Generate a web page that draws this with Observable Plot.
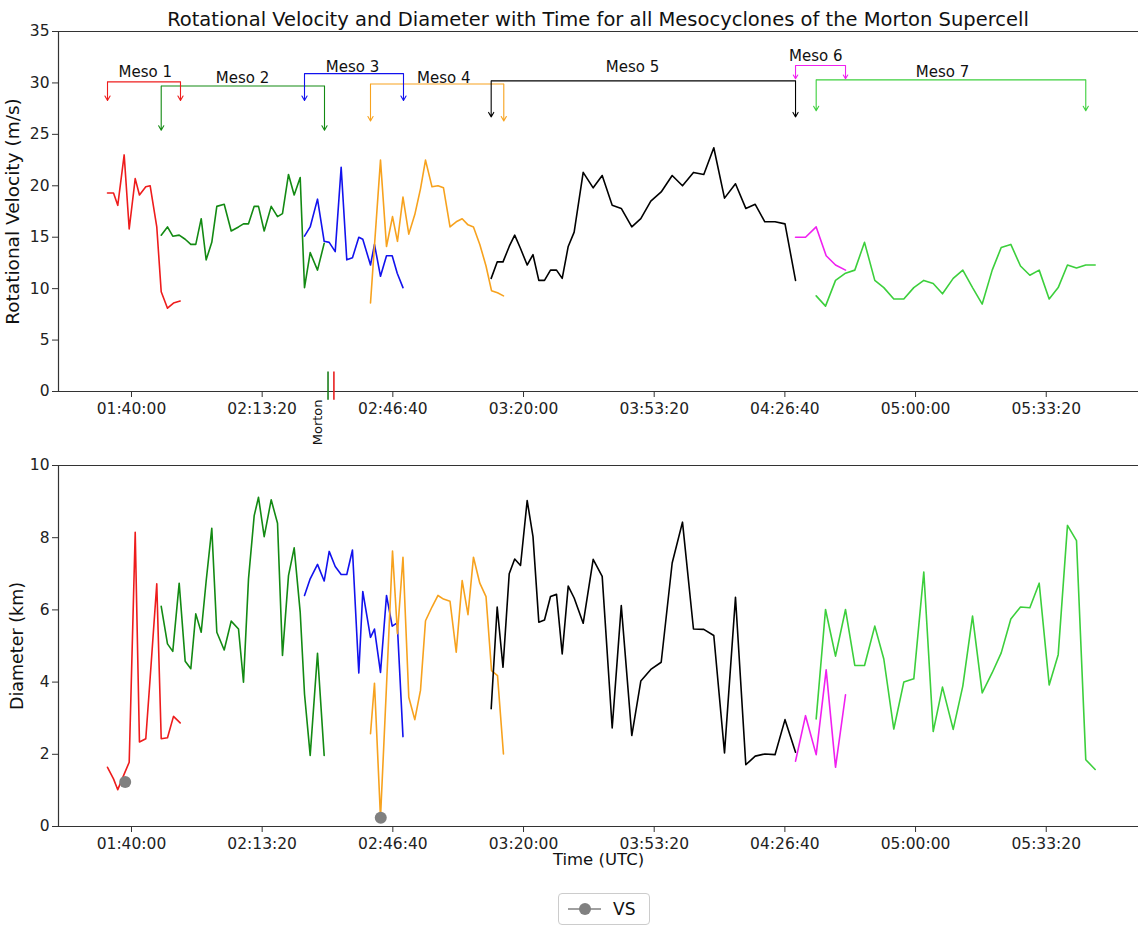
<!DOCTYPE html>
<html><head><meta charset="utf-8">
<script src="https://cdn.jsdelivr.net/npm/d3@7"></script>
<script src="https://cdn.jsdelivr.net/npm/@observablehq/plot@0.6"></script>
<style>
body{margin:0;background:#fff;font-family:"DejaVu Sans",sans-serif;}
#wrap{position:relative;width:1138px;height:927px;overflow:hidden;}
#title{position:absolute;top:8px;left:58px;width:1080px;text-align:center;font-size:19.5px;line-height:24px;color:#111;}
#topPanel{position:absolute;top:0;left:0;}
#botPanel{position:absolute;top:452px;left:0;}
#legend{position:absolute;left:558px;top:893px;width:90px;height:30px;border:1px solid #ccc;border-radius:4px;background:#fff;}
#legend span{position:absolute;left:54px;top:5px;font-size:17px;line-height:20px;color:#111;}
</style></head><body>
<div id="wrap">
<div id="topPanel"></div>
<div id="botPanel"></div>
<div id="title">Rotational Velocity and Diameter with Time for all Mesocyclones of the Morton Supercell</div>
<div id="legend"><svg width="50" height="30" style="position:absolute;left:0;top:0"><line x1="9" y1="15" x2="42" y2="15" stroke="#808080" stroke-width="1.6"/><circle cx="26" cy="15" r="6" fill="#808080"/></svg><span>VS</span></div>
</div>
<script>
// ---- data (times in seconds since 00:00 UTC) ----
const mesoNames = ["Meso 1","Meso 2","Meso 3","Meso 4","Meso 5","Meso 6","Meso 7"];

const meso1Time = [5633,5725,5790,5888,5965,6057,6122,6219,6286,6387,6455,6551,6643,6745];
const meso1Vel  = [19.3,19.3,18.1,23.0,15.8,20.7,19.1,19.9,20.0,16.0,9.7,8.1,8.6,8.8];
const meso1Diam = [1.64,1.32,1.02,1.45,1.78,8.15,2.34,2.43,4.12,6.72,2.43,2.46,3.05,2.87];

const meso2Time = [6455,6551,6632,6730,6822,6908,6984,7067,7143,7229,7306,7419,7526,7638,7714,7791,7878,7944,8031,8138,8235,8311,8403,8490,8582,8648,8735,8847,8949];
const meso2Vel  = [15.2,16.0,15.1,15.2,14.8,14.3,14.3,16.8,12.8,14.5,18.0,18.2,15.6,16.0,16.3,16.3,18.0,18.0,15.6,18.0,17.0,17.3,21.1,19.1,20.8,10.1,13.5,11.8,14.4];
const meso2Diam = [6.1,5.06,4.85,6.74,4.58,4.37,5.89,5.38,6.8,8.26,5.38,4.89,5.69,5.47,4.0,6.86,8.61,9.12,8.03,9.05,8.4,4.74,6.95,7.72,5.94,3.67,1.97,4.8,1.97];

const meso3Time = [8648,8735,8847,8949,9026,9118,9209,9295,9382,9479,9540,9658,9719,9811,9903,9990,10067,10155];
const meso3Vel  = [15.1,16.0,18.7,14.6,14.5,13.6,21.8,12.8,13.0,15.0,14.8,12.3,14.3,11.2,13.2,13.2,11.5,10.1];
const meso3Diam = [6.4,6.86,7.26,6.8,7.62,7.2,6.98,6.98,7.66,4.25,6.51,5.24,5.47,4.27,6.4,5.55,5.64,2.49];

const meso4Time = [9658,9719,9811,9903,9995,10071,10155,10244,10336,10423,10500,10599,10691,10775,10875,10970,11061,11150,11234,11331,11426,11510,11602,11693];
const meso4Vel  = [8.6,14.2,22.5,14.1,17.0,14.6,18.9,15.3,17.2,19.7,22.5,19.9,20.0,19.8,16.0,16.5,16.8,16.2,16.0,14.3,12.2,9.8,9.6,9.3];
const meso4Diam = [2.57,3.97,0.24,3.9,7.63,5.34,7.46,3.58,2.96,3.77,5.7,6.08,6.4,6.3,6.24,4.83,6.81,5.87,7.46,6.74,6.37,4.32,4.18,2.01];

const meso5Time = [11505,11597,11686,11781,11865,11954,12056,12145,12234,12321,12413,12505,12592,12684,12775,12913,13066,13204,13357,13496,13657,13795,13948,14107,14275,14433,14601,14759,14912,15076,15244,15402,15546,15693,15849,16002,16163];
const meso5Vel  = [11.0,12.6,12.6,14.1,15.2,13.9,12.3,13.3,10.8,10.8,11.8,11.8,11.0,14.1,15.5,21.3,19.8,21.0,18.1,17.8,16.0,16.8,18.5,19.4,21.0,20.0,21.3,21.1,23.7,18.8,20.2,17.8,18.2,16.5,16.5,16.3,10.8];
const meso5Diam = [3.26,6.08,4.41,7.0,7.41,7.23,9.03,8.03,5.66,5.72,6.37,6.43,4.78,6.66,6.33,5.63,7.4,6.93,2.73,6.12,2.52,4.03,4.35,4.55,7.3,8.43,5.47,5.46,5.29,2.04,6.35,1.71,1.95,2.01,1.99,2.96,2.06];

const meso6Time = [16163,16316,16479,16632,16775,16928];
const meso6Vel  = [15.0,15.0,16.0,13.2,12.3,11.8];
const meso6Diam = [1.81,3.07,1.99,4.34,1.64,3.65];

const meso7Time = [16479,16622,16775,16928,17070,17219,17376,17514,17667,17820,17973,18126,18270,18412,18576,18723,18872,19020,19173,19311,19458,19606,19749,19892,20045,20183,20325,20463,20605,20749];
const meso7Vel  = [9.3,8.3,10.8,11.5,11.8,14.5,10.8,10.1,9.0,9.0,10.1,10.8,10.5,9.5,11.0,11.8,10.1,8.5,11.8,14.0,14.3,12.2,11.3,11.8,9.0,10.1,12.3,12.0,12.3,12.3];
const meso7Diam = [2.98,6.01,4.72,6.01,4.46,4.46,5.55,4.64,2.7,4.0,4.09,7.05,2.63,3.86,2.69,3.89,5.83,3.7,4.26,4.81,5.75,6.08,6.06,6.74,3.92,4.76,8.34,7.92,1.85,1.58];

// bracket annotations (start/end time, bar level, arrow tip level, label position)
const bracketStart = [5633,6455,8648,9658,11505,16163,16479];
const bracketEnd   = [6750,8954,10163,11698,16163,16928,20605];
const bracketBar   = [30.1,29.7,30.9,29.9,30.2,31.7,30.3];
const bracketTip   = [28.3,25.4,28.3,26.3,26.7,30.4,27.3];
const labelTime    = [6210,7699,9382,10780,13668,16473,18412];
const labelLevel   = [31.0,30.5,31.5,30.5,31.5,32.6,31.0];

// Morton town passage markers
const mortonTime = [9008, 9098];
const mortonLabelTime = 8857;

// VS points
const vsTime = [5904, 9815];
const vsDiam = [1.23, 0.24];

const xTickValues = [6000,8000,10000,12000,14000,16000,18000,20000];
const velTicks = [0,5,10,15,20,25,30,35];
const diamTicks = [0,2,4,6,8,10];

// ---- styling ----
const mesoColors = ["#ee1c1c","#138a13","#1212ee","#f7a21e","#000000","#f020f0","#3ccf3c"];
const xDomain = [4883, 21412];

const times = [meso1Time,meso2Time,meso3Time,meso4Time,meso5Time,meso6Time,meso7Time];
const vels  = [meso1Vel,meso2Vel,meso3Vel,meso4Vel,meso5Vel,meso6Vel,meso7Vel];
const diams = [meso1Diam,meso2Diam,meso3Diam,meso4Diam,meso5Diam,meso6Diam,meso7Diam];

const rows = mesoNames.flatMap((m, k) => times[k].map((t, i) => ({meso: m, t, v: vels[k][i], d: diams[k][i]})));
const brackets = mesoNames.map((m, k) => ({meso: m, start: bracketStart[k], end: bracketEnd[k], bar: bracketBar[k], tip: bracketTip[k], lt: labelTime[k], ll: labelLevel[k]}));
const vsRows = vsTime.map((t, i) => ({t, d: vsDiam[i]}));

const fmt = s => {
  const h = Math.floor(s / 3600), m = Math.floor((s % 3600) / 60), sec = Math.round(s % 60);
  return [h, m, sec].map(v => String(v).padStart(2, "0")).join(":");
};

const spine = "#333";
const common = {
  width: 1138,
  marginLeft: 58,
  marginRight: 0,
  x: {domain: xDomain},
  color: {domain: mesoNames, range: mesoColors},
  style: {fontFamily: "DejaVu Sans", fontSize: "15px", overflow: "visible", background: "transparent", color: "#222"}
};

const topChart = Plot.plot({
  ...common,
  height: 452,
  marginTop: 31,
  marginBottom: 61,
  y: {domain: [0, 35]},
  marks: [
    Plot.ruleY([35], {stroke: spine, strokeWidth: 1.2}),
    Plot.ruleY([0], {stroke: spine, strokeWidth: 1.2}),
    Plot.ruleX([xDomain[0]], {stroke: spine, strokeWidth: 1.2}),
    Plot.axisY({ticks: velTicks, tickSize: 6, tickPadding: 3, fontSize: 15.5, label: null, stroke: spine}),
    Plot.axisX({ticks: xTickValues, tickFormat: fmt, tickSize: 6, tickPadding: 5, fontSize: 15.5, label: null, stroke: spine}),
    Plot.text(["Rotational Velocity (m/s)"], {frameAnchor: "left", dx: -45, rotate: -90, textAnchor: "middle", lineAnchor: "middle", fontSize: 18.5, fill: "#111"}),
    Plot.line(rows, {x: "t", y: "v", z: "meso", stroke: "meso", strokeWidth: 1.6}),
    Plot.link(brackets, {x1: "start", x2: "end", y1: "bar", y2: "bar", stroke: "meso", strokeWidth: 1.1}),
    Plot.arrow(brackets, {x1: "start", x2: "start", y1: "bar", y2: "tip", stroke: "meso", strokeWidth: 1.1, headLength: 7}),
    Plot.arrow(brackets, {x1: "end", x2: "end", y1: "bar", y2: "tip", stroke: "meso", strokeWidth: 1.1, headLength: 7}),
    Plot.text(brackets, {x: "lt", y: "ll", text: "meso", fontSize: 15, fill: "#111"}),
    Plot.ruleX([mortonTime[0]], {y1: -0.85, y2: 1.9, stroke: "#1c7f1c", strokeWidth: 1.6}),
    Plot.ruleX([mortonTime[1]], {y1: -0.85, y2: 1.9, stroke: "#e82020", strokeWidth: 1.6}),
    Plot.text(["Morton"], {x: mortonLabelTime, y: -3.0, rotate: -90, fontSize: 13, fill: "#111"})
  ]
});
document.getElementById("topPanel").appendChild(topChart);

const botChart = Plot.plot({
  ...common,
  height: 424,
  marginTop: 13,
  marginBottom: 50,
  y: {domain: [0, 10]},
  marks: [
    Plot.ruleY([10], {stroke: spine, strokeWidth: 1.2}),
    Plot.ruleY([0], {stroke: spine, strokeWidth: 1.2}),
    Plot.ruleX([xDomain[0]], {stroke: spine, strokeWidth: 1.2}),
    Plot.axisY({ticks: diamTicks, tickSize: 6, tickPadding: 3, fontSize: 15.5, label: null, stroke: spine}),
    Plot.axisX({ticks: xTickValues, tickFormat: fmt, tickSize: 6, tickPadding: 5, fontSize: 15.5, label: null, stroke: spine}),
    Plot.text(["Diameter (km)"], {frameAnchor: "left", dx: -41, rotate: -90, textAnchor: "middle", lineAnchor: "middle", fontSize: 17.5, fill: "#111"}),
    Plot.text(["Time (UTC)"], {frameAnchor: "bottom", dy: 33, lineAnchor: "middle", fontSize: 16.5, fill: "#111"}),
    Plot.line(rows, {x: "t", y: "d", z: "meso", stroke: "meso", strokeWidth: 1.6}),
    Plot.dot(vsRows, {x: "t", y: "d", r: 6, fill: "#808080"})
  ]
});
document.getElementById("botPanel").appendChild(botChart);
</script>
</body></html>
